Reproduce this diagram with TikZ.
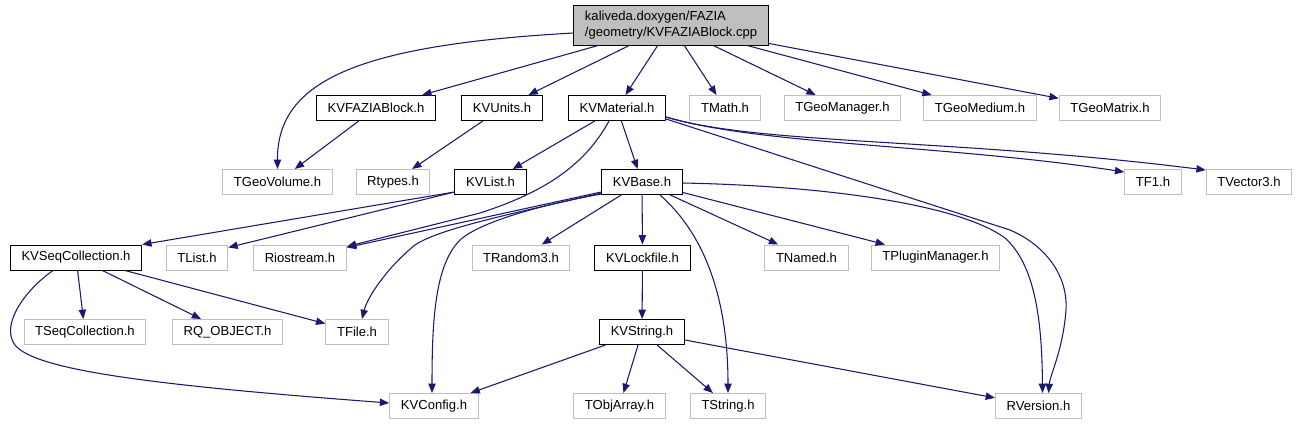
\documentclass[tikz,border=0pt]{standalone}
\usepackage{fontspec}
\setmainfont{Liberation Sans}
\usepackage{tikz}
\usetikzlibrary{calc, arrows.meta}
\definecolor{edgeColor}{HTML}{191970}
\definecolor{boxGray}{HTML}{BFBFBF}

\begin{document}
\begin{tikzpicture}[x=0.75pt, y=-0.75pt,
    every node/.style={font=\fontsize{9.8pt}{11.5pt}\selectfont, inner xsep=8.4pt,
        minimum height=18.75pt, line width=0.75pt},
    docBox/.style={draw=black, fill=white},
    extBox/.style={draw=boxGray, fill=white},
    mainBox/.style={draw=black, fill=boxGray, align=left, minimum height=30pt},
    dep/.style={draw=edgeColor, line width=0.8pt, -{Triangle[length=7pt, width=5.5pt]}}]

    \useasboundingbox (0,0) rectangle (1298,425);

    \node[mainBox] (main) at (671,25) {kaliveda.doxygen/FAZIA\\/geometry/KVFAZIABlock.cpp};

    % first row
    \node[docBox] (KVFAZIABlock) at (376,108) {KVFAZIABlock.h};
    \node[docBox] (KVUnits) at (502,108) {KVUnits.h};
    \node[docBox] (KVMaterial) at (617,108) {KVMaterial.h};
    \node[extBox] (TMath) at (725,108) {TMath.h};
    \node[extBox] (TGeoManager) at (842.5,108) {TGeoManager.h};
    \node[extBox] (TGeoMedium) at (980,108) {TGeoMedium.h};
    \node[extBox] (TGeoMatrix) at (1110,108) {TGeoMatrix.h};

    % second row
    \node[extBox] (TGeoVolume) at (277.5,182) {TGeoVolume.h};
    \node[extBox] (Rtypes) at (393,182) {Rtypes.h};
    \node[docBox] (KVList) at (490.5,182) {KVList.h};
    \node[docBox] (KVBase) at (642,182) {KVBase.h};
    \node[extBox] (TF1) at (1153,182) {TF1.h};
    \node[extBox] (TVector3) at (1249,182) {TVector3.h};

    % third row
    \node[docBox] (KVSeqCollection) at (76,257.5) {KVSeqCollection.h};
    \node[extBox] (TList) at (197,257.5) {TList.h};
    \node[extBox] (Riostream) at (300,257.5) {Riostream.h};
    \node[extBox] (TRandom3) at (521,257.5) {TRandom3.h};
    \node[docBox] (KVLockfile) at (642.5,257.5) {KVLockfile.h};
    \node[extBox] (TNamed) at (806.5,257.5) {TNamed.h};
    \node[extBox] (TPluginManager) at (935.5,257.5) {TPluginManager.h};

    % fourth row
    \node[extBox] (TSeqCollection) at (85,332) {TSeqCollection.h};
    \node[extBox] (RQObject) at (227.5,332) {RQ\_OBJECT.h};
    \node[extBox] (TFile) at (357,332) {TFile.h};
    \node[docBox] (KVString) at (642,332) {KVString.h};

    % last row
    \node[extBox] (KVConfig) at (434,406) {KVConfig.h};
    \node[extBox] (TObjArray) at (619.5,406) {TObjArray.h};
    \node[extBox] (TString) at (728,406) {TString.h};
    \node[extBox] (RVersion) at (1038.5,406) {RVersion.h};

    % includes of the cpp file
    \foreach \t in {KVFAZIABlock,KVUnits,KVMaterial,TMath,TGeoManager,TGeoMedium,TGeoMatrix}
        \draw[dep] (main) -- (\t);
    \draw[dep] ($(main.west)+(0,8)$) .. controls (360,45) and (277,80) .. (TGeoVolume.north);

    \draw[dep] (KVFAZIABlock) -- (TGeoVolume);
    \draw[dep] (KVUnits) -- (Rtypes);

    % KVMaterial.h
    \draw[dep] (KVMaterial) -- (KVList);
    \draw[dep] (KVMaterial) -- (KVBase);
    \draw[dep] ($(KVMaterial.south)+(-8,0)$) .. controls (585,165) and (545,192) .. (480,213)
        -- ($(Riostream.north east)+(0,2)$);
    \draw[dep] ($(KVMaterial.south east)+(0,-4)$) .. controls (760,145) and (950,145) .. ($(TF1.north west)+(0,3)$);
    \draw[dep] ($(KVMaterial.south east)+(0,-4)$) .. controls (760,145) and (950,138) .. ($(TVector3.north west)+(0,1)$);
    \draw[dep] ($(KVMaterial.south east)+(0,-2)$) -- (1010,230)
        .. controls (1045,245) and (1068,275) .. (1066,310)
        .. controls (1063,350) and (1050,375) .. ($(RVersion.north)+(10,0)$);

    % KVList.h
    \draw[dep] ($(KVList.south west)+(0,-3)$) -- (KVSeqCollection.north east);
    \draw[dep] ($(KVList.south west)+(0,-3)$) -- ($(TList.north east)+(0,3)$);

    % KVBase.h
    \foreach \t in {TRandom3,KVLockfile,TNamed,TPluginManager}
        \draw[dep] (KVBase) -- (\t);
    \draw[dep] ($(KVBase.south west)+(0,-3)$) -- ($(Riostream.north east)+(0,3)$);
    \draw[dep] ($(KVBase.south west)+(0,-2)$) .. controls (520,212) and (440,228) .. (415,245)
        .. controls (390,265) and (368,295) .. ($(TFile.north)+(5,0)$);
    \draw[dep] ($(KVBase.south west)+(0,-1)$) .. controls (540,205) and (480,222) .. (460,240)
        .. controls (435,265) and (432,320) .. ($(KVConfig.north)+(-2,0)$);
    \draw[dep] ($(KVBase.south)+(18,0)$) .. controls (700,230) and (728,290) .. (TString.north);
    \draw[dep] ($(KVBase.east)+(0,1)$) .. controls (830,186) and (960,205) .. (1005,238)
        .. controls (1035,265) and (1042,320) .. ($(RVersion.north)+(4,0)$);

    % KVSeqCollection.h
    \foreach \t in {TSeqCollection,RQObject,TFile}
        \draw[dep] (KVSeqCollection) -- (\t);
    \draw[dep] ($(KVSeqCollection.south)+(-23,0)$) .. controls (25,290) and (0,325) .. (15,345)
        .. controls (35,370) and (150,385) .. ($(KVConfig.west)+(0,-3)$);

    % KVLockfile.h and KVString.h
    \draw[dep] (KVLockfile) -- (KVString);
    \foreach \t in {KVConfig,TObjArray,TString,RVersion}
        \draw[dep] (KVString) -- (\t);
\end{tikzpicture}
\end{document}
